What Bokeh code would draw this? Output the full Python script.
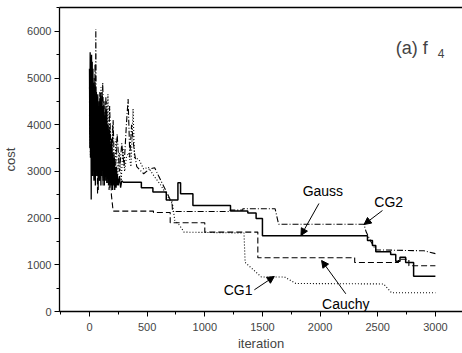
from bokeh.plotting import figure
from bokeh.models import Range1d, LinearAxis, Arrow, NormalHead, FixedTicker, Label
from bokeh.embed import file_html
from bokeh.resources import INLINE

# ---------------- data ----------------
# Gauss (solid): noisy start then steps
gauss_noise_x = [0, 3, 6, 9, 12, 15, 18, 21, 24, 27,
                 30, 33, 36, 39, 42, 45, 48, 51, 54, 57,
                 60, 63, 66, 69, 72, 75, 78, 81, 84, 87,
                 90, 93, 96, 99, 102, 105, 108, 111, 114, 117,
                 120, 123, 126, 129, 132, 135, 138, 141, 144, 147,
                 150, 153, 156, 159, 162, 165, 168, 171, 174, 177,
                 180, 183, 186, 189, 192, 195, 198, 201, 204, 207,
                 210, 213, 216, 219, 222, 225, 228, 231, 234, 237,
                 240, 250, 260, 270, 280, 290]
gauss_noise_y = [5200, 3500, 5550, 3300, 5450, 2400, 5500, 3100, 5350, 2900,
                 5200, 3200, 4900, 2800, 4800, 3000, 4750, 2700, 4600, 3100,
                 4700, 2900, 4550, 3000, 4650, 2600, 4400, 3100, 4500, 2800,
                 4300, 3000, 4600, 2700, 4200, 2900, 4700, 3100, 4400, 2800,
                 4300, 2950, 4500, 2700, 4100, 3000, 4200, 2800, 3900, 2900,
                 4300, 2750, 3800, 3000, 4000, 2700, 3700, 2900, 3900, 2650,
                 3600, 2800, 3500, 2700, 3700, 2900, 3300, 2600, 3400, 2800,
                 3200, 2700, 3300, 2600, 3100, 2800, 3000, 2650, 3100, 2700,
                 2950, 2700, 2900, 2650, 2800, 2770]
gauss_step_x = [290, 450, 550, 666, 767, 790, 897, 1223, 1373, 1445, 1500, 2411, 2454, 2483,
                2612, 2656, 2693, 2742, 2811, 3000]
gauss_step_y = [2770, 2650, 2560, 2390, 2756, 2520, 2270, 2150, 2110, 1990, 1620, 1520, 1413,
                1280, 1220, 1077, 1163, 1050, 756, 756]

# CG2 (dash-dot)
cg2_x = [0, 10, 20, 30, 40, 50, 55, 60, 70, 80, 90, 100, 115, 130, 145, 160, 175, 190, 205, 220,
         240, 260, 280, 300, 320, 335, 350, 365, 390, 410, 470, 520, 565, 600, 650, 700, 715, 720,
         1220, 1220, 1330, 1330, 1610, 1640, 2380, 2400, 2440, 2483, 2900, 3000]
cg2_y = [4800, 3500, 5200, 3300, 5000, 3200, 6050, 3400, 4600, 3000, 4700, 3200, 4900, 3100,
         4500, 2900, 4400, 3000, 4100, 2800, 3800, 3000, 3600, 3100, 4000, 4550, 3300, 4000, 3400,
         3100, 2950, 3050, 3080, 2900, 2650, 2400, 2380, 2140, 2140, 2170, 2170, 2200, 2200, 1870,
         1870, 1700, 1500, 1320, 1300, 1240]

# Cauchy (dashed)
cauchy_x = [0, 6, 12, 18, 24, 30, 36, 42, 48, 54, 62, 70, 78, 86, 94, 102, 110, 118, 126, 134,
            142, 150, 160, 170, 180, 190, 205, 555, 555, 700, 700, 1000, 1000, 1460, 1460, 2300,
            2300, 2680, 2680, 2770, 2770, 3000]
cauchy_y = [4500, 3800, 5400, 3300, 5000, 3000, 4900, 2800, 5300, 3100, 4500, 2500, 4300, 2900,
            4700, 3000, 4000, 2700, 4400, 2900, 4600, 2750, 3900, 2600, 3600, 2500, 2150, 2150,
            2120, 2120, 1900, 1900, 1700, 1700, 1150, 1150, 1050, 1050, 1120, 1120, 980, 980]

# CG1 (dotted)
cg1_x = [0, 8, 16, 24, 32, 40, 48, 56, 64, 72, 80, 90, 100, 110, 120, 130, 140, 150, 160, 170,
         180, 190, 200, 215, 230, 245, 260, 275, 290, 305, 320, 340, 360, 378, 390, 430, 470, 510,
         560, 620, 680, 720, 740, 780, 820, 1340, 1350, 1490, 1690, 1790, 2550, 2620, 3000]
cg1_y = [4200, 3300, 5100, 3000, 4900, 3400, 5000, 2900, 4600, 3200, 4400, 2800, 4800, 3300,
         4100, 2900, 4300, 3100, 4650, 2800, 3900, 3000, 4000, 2750, 3700, 2900, 3400, 2800, 3500,
         3000, 3300, 3400, 3100, 4340, 3300, 3250, 3050, 3090, 2900, 2700, 2450, 2300, 1950, 1850,
         1700, 1680, 1050, 740, 740, 600, 590, 400, 400]

x_ticks = [0, 500, 1000, 1500, 2000, 2500, 3000]
y_ticks = [0, 1000, 2000, 3000, 4000, 5000, 6000]

# annotation texts and arrow ends (data coordinates)
labels = ["Gauss", "CG2", "CG1", "Cauchy"]
label_x = [2024, 2595, 1289, 2223]
label_y = [2570, 2355, 450, 171]
arrow_tail_x = [1990, 2541, 1430, 2223]
arrow_tail_y = [2313, 2163, 465, 379]
arrow_head_x = [1834, 2381, 1603, 2013]
arrow_head_y = [1627, 1863, 750, 1092]

FONT = "Liberation Sans"

p = figure(width=462, height=353, output_backend="svg", toolbar_location=None,
           x_range=Range1d(-260, 3235), y_range=Range1d(0, 6510),
           min_border_left=58, min_border_right=0, min_border_top=7, min_border_bottom=42)
p.outline_line_color = None
p.grid.visible = False
p.background_fill_color = "white"

p.line(gauss_noise_x, gauss_noise_y, line_color="black", line_width=1.3)
p.step(gauss_step_x, gauss_step_y, mode="after", line_color="black", line_width=1.5)
p.line(cg2_x, cg2_y, line_color="black", line_width=1.1, line_dash="6 2 1 2")
p.line(cauchy_x, cauchy_y, line_color="black", line_width=1.1, line_dash="6 3")
p.line(cg1_x, cg1_y, line_color="black", line_width=1.1, line_dash="1 2")

for t, lx, ly in zip(labels, label_x, label_y):
    p.add_layout(Label(x=lx, y=ly, text=t, text_align="center", text_baseline="middle",
                       text_font=FONT, text_font_size="14px", text_color="black"))
for tx, ty, hx, hy in zip(arrow_tail_x, arrow_tail_y, arrow_head_x, arrow_head_y):
    p.add_layout(Arrow(x_start=tx, y_start=ty, x_end=hx, y_end=hy, line_width=1,
                       end=NormalHead(size=7, fill_color="black", line_color="black")))

p.add_layout(Label(x=2656, y=5653, text="(a) f", text_font=FONT, text_font_size="18px",
                   text_baseline="alphabetic"))
p.add_layout(Label(x=3020, y=5525, text="4", text_font=FONT, text_font_size="12px",
                   text_baseline="alphabetic"))

for ax in (p.xaxis[0], p.yaxis[0]):
    ax.axis_line_width = 1.3
    ax.major_tick_out = 5
    ax.major_tick_in = 0
    ax.minor_tick_out = 3
    ax.minor_tick_in = 0
    ax.major_label_text_font = FONT
    ax.major_label_text_font_size = "11px"
    ax.axis_label_text_font = FONT
    ax.axis_label_text_font_size = "13px"
    ax.axis_label_text_font_style = "normal"

p.xaxis[0].ticker = FixedTicker(ticks=x_ticks, minor_ticks=list(range(-250, 3251, 250)))
p.yaxis[0].ticker = FixedTicker(ticks=y_ticks, minor_ticks=list(range(0, 6501, 500)))
p.xaxis[0].axis_label = "iteration"
p.yaxis[0].axis_label = "cost"
p.xaxis[0].major_label_standoff = 6
p.xaxis[0].axis_label_standoff = 2
p.yaxis[0].major_label_standoff = 3
p.yaxis[0].axis_label_standoff = 6

top = LinearAxis(ticker=FixedTicker(ticks=[]), major_label_text_font_size="0px",
                 major_tick_out=0, minor_tick_out=0, axis_line_width=1.3)
p.add_layout(top, "above")

open("out.html", "w").write(file_html(p, INLINE))
